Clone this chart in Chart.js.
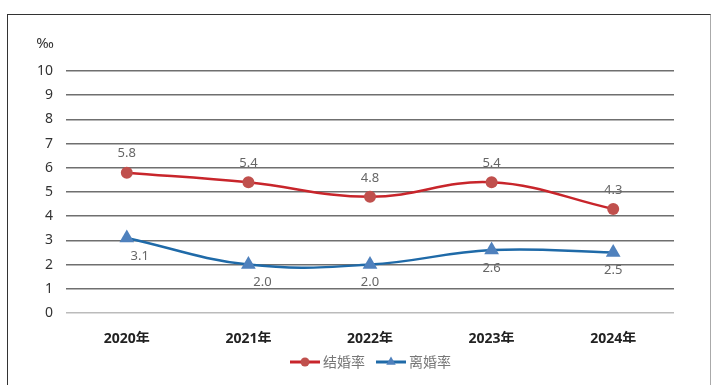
<!DOCTYPE html>
<html>
<head>
<meta charset="utf-8">
<script src="https://cdn.jsdelivr.net/npm/chart.js@4.4.1/dist/chart.umd.min.js"></script>
<style>
  html, body { margin: 0; padding: 0; background: #fff; }
  #wrap { position: relative; width: 718px; height: 385px; }
  #frame { position: absolute; left: 7px; top: 14px; width: 702px; height: 400px;
           border-top: 1.5px solid #333; border-left: 1.5px solid #333; border-right: 1px solid #aaa; }
  canvas { position: absolute; left: 0; top: 0; }
</style>
</head>
<body>
<div id="wrap">
  <div id="frame"></div>
  <canvas id="myChart" width="718" height="385"></canvas>
</div>
<script>
// data
const years = ['2020年', '2021年', '2022年', '2023年', '2024年'];
const marriageRate = [5.8, 5.4, 4.8, 5.4, 4.3];
const divorceRate = [3.1, 2.0, 2.0, 2.6, 2.5];
const seriesNames = ['结婚率', '离婚率'];
const yTicks = [0, 1, 2, 3, 4, 5, 6, 7, 8, 9, 10];

const FONT = "'Noto Sans', 'Noto Sans CJK SC', sans-serif";
const RED = '#c8252b';
const BLUE = '#1f6aa8';

// value labels above/below the points, plus the little unit mark and the legend
const extras = {
  id: 'extras',
  afterDatasetsDraw(chart) {
    const ctx = chart.ctx;
    ctx.save();
    ctx.font = '13px ' + FONT;
    ctx.fillStyle = '#666';
    ctx.textAlign = 'center';
    ctx.textBaseline = 'middle';
    const blueShift = [13, 14, 0, 0, 0]; // excel put the first two labels a bit to the right
    chart.getDatasetMeta(0).data.forEach((pt, i) => {
      ctx.fillText(marriageRate[i].toFixed(1), pt.x, pt.y - 19);
    });
    chart.getDatasetMeta(1).data.forEach((pt, i) => {
      ctx.fillText(divorceRate[i].toFixed(1), pt.x + blueShift[i], pt.y + 18);
    });

    // ‰ above the y axis
    ctx.fillStyle = '#333';
    ctx.font = '15px ' + FONT;
    ctx.fillText('‰', 45, 44);

    // legend: short line with the marker in the middle
    const ly = 362;
    const items = [
      { x: 290, color: RED, fill: '#c0504d', style: 'circle', r: 4.5, name: seriesNames[0] },
      { x: 376, color: BLUE, fill: '#4f81bd', style: 'triangle', r: 5.5, name: seriesNames[1] }
    ];
    items.forEach(it => {
      ctx.strokeStyle = it.color;
      ctx.lineWidth = 3;
      ctx.beginPath();
      ctx.moveTo(it.x, ly);
      ctx.lineTo(it.x + 30, ly);
      ctx.stroke();
      ctx.fillStyle = it.fill;
      Chart.helpers.drawPoint(ctx, { pointStyle: it.style, radius: it.r, borderWidth: 0 }, it.x + 15, ly);
      ctx.fillStyle = '#777';
      ctx.textAlign = 'left';
      ctx.font = '14px ' + FONT;
      ctx.fillText(it.name, it.x + 33, ly + 1);
    });
    ctx.restore();
  }
};

new Chart(document.getElementById('myChart').getContext('2d'), {
  type: 'line',
  data: {
    labels: years,
    datasets: [
      {
        label: seriesNames[0],
        data: marriageRate,
        borderColor: RED,
        backgroundColor: '#c0504d',
        borderWidth: 2.5,
        tension: 0.4,
        pointStyle: 'circle',
        pointRadius: 6,
        pointBorderWidth: 0
      },
      {
        label: seriesNames[1],
        data: divorceRate,
        borderColor: BLUE,
        backgroundColor: '#4f81bd',
        borderWidth: 2.5,
        tension: 0.4,
        pointStyle: 'triangle',
        pointRadius: 8.5,
        pointBorderWidth: 0
      }
    ]
  },
  options: {
    responsive: false,
    animation: false,
    layout: { padding: { top: 71, right: 44, bottom: 42, left: 0 } },
    plugins: {
      legend: { display: false },
      tooltip: { enabled: false }
    },
    scales: {
      x: {
        offset: true,
        grid: { display: false },
        border: { display: false },
        ticks: { color: '#222', font: { family: FONT, size: 14, weight: 'bold' }, padding: 10 },
        afterFit: s => { s.height = 30; }
      },
      y: {
        min: 0,
        max: 10,
        afterBuildTicks: s => { s.ticks = yTicks.map(v => ({ value: v })); },
        grid: {
          drawTicks: false,
          color: c => c.tick.value === 0 ? '#bbb' : '#6f6f6f',
          lineWidth: 1.5
        },
        border: { display: false },
        ticks: { color: '#333', font: { family: FONT, size: 14 }, padding: 13 },
        afterFit: s => { s.width = 66; }
      }
    }
  },
  plugins: [extras]
});
</script>
</body>
</html>
